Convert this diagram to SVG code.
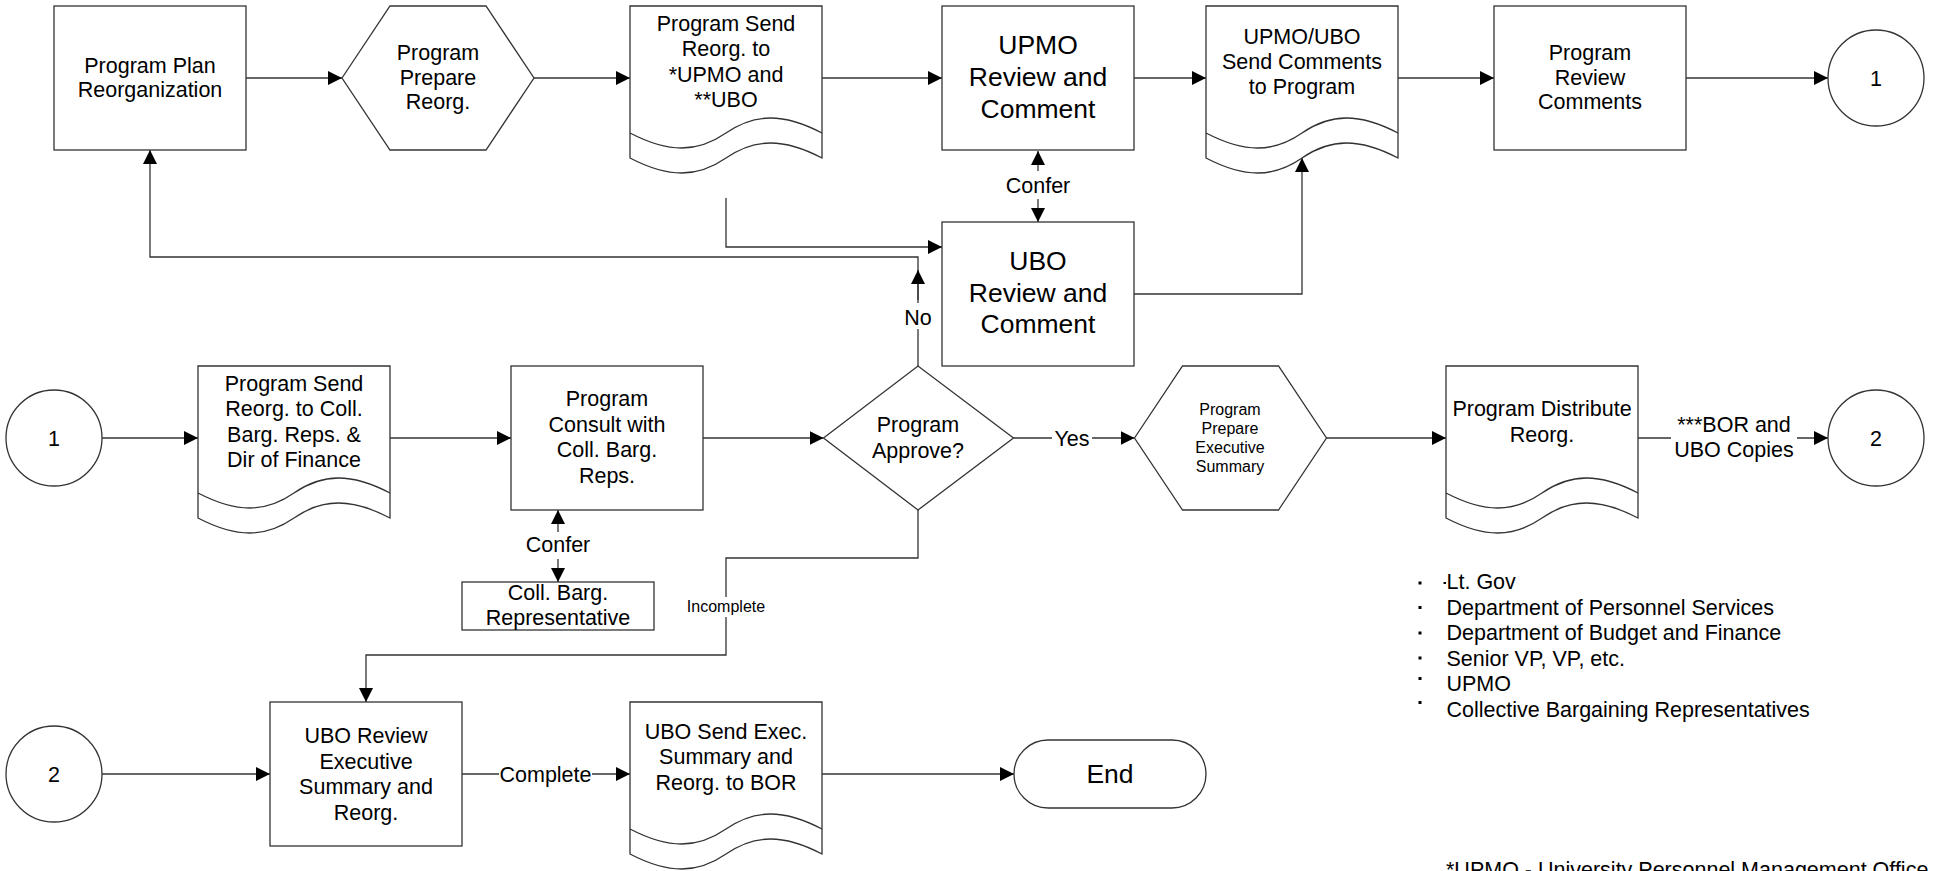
<svg xmlns="http://www.w3.org/2000/svg" xmlns:xlink="http://www.w3.org/1999/xlink" width="1937" height="871" viewBox="0 0 1937 871">
<style>
.s{fill:#fff;stroke:#333;stroke-width:1.3}
.w{fill:none;stroke:#333;stroke-width:1.3}
.c{fill:none;stroke:#333;stroke-width:1.3}
.bg{fill:#fff;stroke:none}
text{font-family:"Liberation Sans",Arial,sans-serif;fill:#000}
.t{font-size:21.5px;text-anchor:middle}
.b{font-size:26.5px;text-anchor:middle}
.sm{font-size:16px;text-anchor:middle}
.l{font-size:21.5px;text-anchor:start}
</style>
<defs>
<marker id="ah" viewBox="0 0 14 14" refX="14" refY="7" markerWidth="14" markerHeight="14" markerUnits="userSpaceOnUse" orient="auto-start-reverse"><path d="M0,0 L14,7 L0,14 z" fill="#000"/></marker>
<g id="doc"><path class="s" d="M0,152 V0 H192 V152 C153.6,132 124.8,132 96,152 C67.2,172 38.4,172 0,152 z"/><path class="w" d="M0,127 C38.4,147 67.2,147 96,127 C124.8,107 153.6,107 192,127"/></g>
<polygon id="hex" class="s" points="0,72 48,0 144,0 192,72 144,144 48,144"/>
</defs>
<rect width="1937" height="871" fill="#fff"/>

<g id="connectors" marker-end="url(#ah)">
<path class="c" d="M246,78 H342"/>
<path class="c" d="M534,78 H630"/>
<path class="c" d="M822,78 H942"/>
<path class="c" d="M1134,78 H1206"/>
<path class="c" d="M1398,78 H1494"/>
<path class="c" d="M1686,78 H1828"/>
<path class="c" d="M1038,151 V222" marker-start="url(#ah)"/>
<path class="c" d="M726,198 V247 H942"/>
<path class="c" d="M1134,294 H1302 V158"/>
<path class="c" d="M918,366 V257 H150 V150"/>
<path class="c" d="M918,300 V270"/>
<path class="c" d="M102,438 H198"/>
<path class="c" d="M390,438 H511"/>
<path class="c" d="M558,510 V582" marker-start="url(#ah)"/>
<path class="c" d="M703,438 H823.5"/>
<path class="c" d="M1013.5,438 H1134.5"/>
<path class="c" d="M1326,438 H1446"/>
<path class="c" d="M1638,438 H1828"/>
<path class="c" d="M918,510 V558 H726 V655 H366 V702"/>
<path class="c" d="M102,774 H270"/>
<path class="c" d="M462,774 H630"/>
<path class="c" d="M822,774 H1014"/>
</g>

<g id="labels">
<rect class="bg" x="1005" y="171" width="66" height="28"/>
<text class="t" x="1038" y="193">Confer</text>
<rect class="bg" x="903" y="303" width="30" height="26"/>
<text class="t" x="918" y="325">No</text>
<rect class="bg" x="1052" y="426" width="40" height="24"/>
<text class="t" x="1072" y="445.5">Yes</text>
<rect class="bg" x="1671" y="416" width="126" height="46"/>
<text class="t" x="1734"><tspan x="1734" y="431.5">***BOR and</tspan><tspan x="1734" y="456.5">UBO Copies</tspan></text>
<rect class="bg" x="525" y="532" width="66" height="27"/>
<text class="t" x="558" y="552">Confer</text>
<rect class="bg" x="686" y="597" width="80" height="20"/>
<text class="sm" x="726" y="612">Incomplete</text>
<rect class="bg" x="499" y="762" width="93" height="24"/>
<text class="t" x="545.5" y="781.5">Complete</text>
</g>

<g id="n-plan"><rect class="s" x="54" y="6" width="192" height="144"/>
<text class="t"><tspan x="150" y="72.5">Program Plan</tspan><tspan x="150" y="97">Reorganization</tspan></text></g>

<g id="n-prepare"><use xlink:href="#hex" href="#hex" x="342" y="6"/>
<text class="t"><tspan x="438" y="60">Program</tspan><tspan x="438" y="84.5">Prepare</tspan><tspan x="438" y="109">Reorg.</tspan></text></g>

<g id="n-send1"><use xlink:href="#doc" href="#doc" x="630" y="6"/>
<text class="t"><tspan x="726" y="31">Program Send</tspan><tspan x="726" y="56.3">Reorg. to</tspan><tspan x="726" y="81.6">*UPMO and</tspan><tspan x="726" y="106.9">**UBO</tspan></text></g>

<g id="n-upmo"><rect class="s" x="942" y="6" width="192" height="144"/>
<text class="b"><tspan x="1038" y="54">UPMO</tspan><tspan x="1038" y="86">Review and</tspan><tspan x="1038" y="117.5">Comment</tspan></text></g>

<g id="n-comments"><use xlink:href="#doc" href="#doc" x="1206" y="6"/>
<text class="t"><tspan x="1302" y="44">UPMO/UBO</tspan><tspan x="1302" y="69">Send Comments</tspan><tspan x="1302" y="94">to Program</tspan></text></g>

<g id="n-review"><rect class="s" x="1494" y="6" width="192" height="144"/>
<text class="t"><tspan x="1590" y="60">Program</tspan><tspan x="1590" y="84.5">Review</tspan><tspan x="1590" y="109">Comments</tspan></text></g>

<g id="n-c1a"><circle class="s" cx="1876" cy="78" r="48"/><text class="t" x="1876" y="85.5">1</text></g>

<g id="n-ubo"><rect class="s" x="942" y="222" width="192" height="144"/>
<text class="b"><tspan x="1038" y="269.5">UBO</tspan><tspan x="1038" y="301.5">Review and</tspan><tspan x="1038" y="333">Comment</tspan></text></g>

<g id="n-c1b"><circle class="s" cx="54" cy="438" r="48"/><text class="t" x="54" y="445.5">1</text></g>

<g id="n-send2"><use xlink:href="#doc" href="#doc" x="198" y="366"/>
<text class="t"><tspan x="294" y="391">Program Send</tspan><tspan x="294" y="416.3">Reorg. to Coll.</tspan><tspan x="294" y="441.6">Barg. Reps. &amp;</tspan><tspan x="294" y="466.9">Dir of Finance</tspan></text></g>

<g id="n-consult"><rect class="s" x="511" y="366" width="192" height="144"/>
<text class="t"><tspan x="607" y="406">Program</tspan><tspan x="607" y="431.5">Consult with</tspan><tspan x="607" y="457">Coll. Barg.</tspan><tspan x="607" y="482.5">Reps.</tspan></text></g>

<g id="n-rep"><rect class="s" x="462" y="582" width="192" height="48"/>
<text class="t"><tspan x="558" y="600">Coll. Barg.</tspan><tspan x="558" y="625">Representative</tspan></text></g>

<g id="n-approve"><polygon class="s" points="823.5,438 918,366 1013.5,438 918,510"/>
<text class="t"><tspan x="918" y="431.5">Program</tspan><tspan x="918" y="457.5">Approve?</tspan></text></g>

<g id="n-exec"><use xlink:href="#hex" href="#hex" x="1134.5" y="366"/>
<text class="sm"><tspan x="1230" y="414.5">Program</tspan><tspan x="1230" y="433.5">Prepare</tspan><tspan x="1230" y="452.5">Executive</tspan><tspan x="1230" y="471.5">Summary</tspan></text></g>

<g id="n-distribute"><use xlink:href="#doc" href="#doc" x="1446" y="366"/>
<text class="t"><tspan x="1542" y="416">Program Distribute</tspan><tspan x="1542" y="441.5">Reorg.</tspan></text></g>

<g id="n-c2a"><circle class="s" cx="1876" cy="438" r="48"/><text class="t" x="1876" y="445.5">2</text></g>

<g id="n-c2b"><circle class="s" cx="54" cy="774" r="48"/><text class="t" x="54" y="781.5">2</text></g>

<g id="n-ubo-exec"><rect class="s" x="270" y="702" width="192" height="144"/>
<text class="t"><tspan x="366" y="743">UBO Review</tspan><tspan x="366" y="768.5">Executive</tspan><tspan x="366" y="794">Summary and</tspan><tspan x="366" y="819.5">Reorg.</tspan></text></g>

<g id="n-ubo-send"><use xlink:href="#doc" href="#doc" x="630" y="702"/>
<text class="t"><tspan x="726" y="738.7">UBO Send Exec.</tspan><tspan x="726" y="764">Summary and</tspan><tspan x="726" y="789.5">Reorg. to BOR</tspan></text></g>

<g id="n-end"><rect class="s" x="1014" y="740" width="192" height="68" rx="34" ry="34"/>
<text class="b" x="1110" y="783">End</text></g>

<g id="legend">
<rect x="1418.5" y="581.5" width="3" height="3"/>
<rect x="1443.5" y="582" width="2.5" height="2"/>
<rect x="1418.5" y="606" width="3" height="3"/>
<rect x="1418.5" y="631.5" width="3" height="3"/>
<rect x="1418.5" y="656.5" width="3" height="3"/>
<rect x="1418.5" y="677" width="3" height="3"/>
<rect x="1418.5" y="701" width="3" height="3"/>
<text class="l"><tspan x="1446.5" y="589">Lt. Gov</tspan><tspan x="1446.5" y="614.5">Department of Personnel Services</tspan><tspan x="1446.5" y="640">Department of Budget and Finance</tspan><tspan x="1446.5" y="665.5">Senior VP, VP, etc.</tspan><tspan x="1446.5" y="691">UPMO</tspan><tspan x="1446.5" y="716.5">Collective Bargaining Representatives</tspan></text>
<text class="l" x="1446" y="877">*UPMO - University Personnel Management Office</text>
</g>
</svg>
